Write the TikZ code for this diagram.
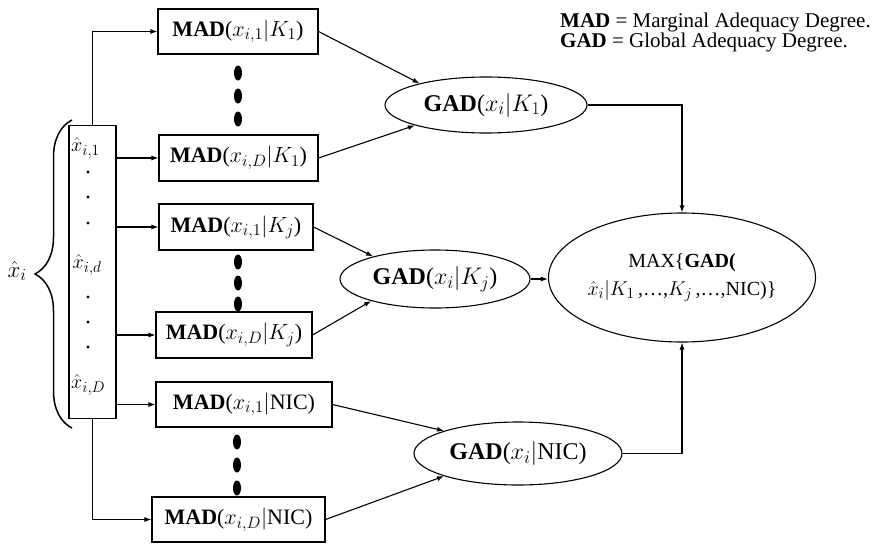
\RequirePackage{fix-cm}
\documentclass[tikz,border=0pt]{standalone}
\usepackage{fontspec}
\setmainfont{Liberation Serif}
\DeclareMathSizes{20}{20}{15.5}{12}
\DeclareMathSizes{21}{21}{16}{12}
\DeclareMathSizes{22}{22}{16.5}{12.5}
\DeclareMathSizes{23}{23}{17}{13}
\DeclareMathSizes{24}{24}{18}{14}
\usetikzlibrary{shapes.geometric,arrows.meta,decorations.pathreplacing}
\begin{document}
\begin{tikzpicture}[x=1pt,y=-1pt,
  every node/.style={inner sep=0pt},
  madbox/.style={draw,line width=1.1pt,minimum height=45pt,font=\fontsize{22}{26}\selectfont},
  gad/.style={draw,ellipse,line width=1.1pt,font=\fontsize{24}{28}\selectfont},
  arr/.style={line width=1.1pt,-{Latex[length=7pt,width=5pt]}},
  entry/.style={anchor=west,font=\fontsize{20}{24}\selectfont},
  legtext/.style={anchor=base west,font=\fontsize{21}{24}\selectfont}]
\useasboundingbox (0,0) rectangle (882,544);

% MAD boxes
\node[madbox,minimum width=160pt] (b1) at (238,31.5) {\textbf{MAD}($x_{i,1}|K_1$)};
\node[madbox,minimum width=159pt,minimum height=46pt] (b2) at (238.5,158) {\textbf{MAD}($x_{i,D}|K_1$)};
\node[madbox,minimum width=154pt,minimum height=46pt] (b3) at (236,227) {\textbf{MAD}($x_{i,1}|K_j$)};
\node[madbox,minimum width=156pt,minimum height=46pt] (b4) at (234,335) {\textbf{MAD}($x_{i,D}|K_j$)};
\node[madbox,minimum width=176pt] (b5) at (244,404.5) {\textbf{MAD}($x_{i,1}|$NIC)};
\node[madbox,minimum width=173pt] (b6) at (238.5,519.5) {\textbf{MAD}($x_{i,D}|$NIC)};

% big dots
\foreach \yy in {73,96,119,262,283,304}
  \fill (238,\yy) ellipse [x radius=4, y radius=7.5];
\foreach \yy in {442,465,488}
  \fill (237,\yy) ellipse [x radius=4, y radius=7.5];

% input vector
\node[draw,line width=1.1pt,minimum width=47pt,minimum height=293pt] (vec) at (92.5,272) {};
\node[entry] (e1) at (71,148) {$\hat{x}_{i,1}$};
\node[entry] (ed) at (72.5,265) {$\hat{x}_{i,d}$};
\node[entry] (eD) at (71,385) {$\hat{x}_{i,D}$};
\foreach \yy in {172,197,223,297,322,347}
  \fill (88,\yy) circle (1.6);

% brace and label
\draw[line width=1.5pt,decorate,decoration={brace,amplitude=37pt}] (72,428) -- (72,120);
\node[font=\fontsize{23}{26}\selectfont] (xi) at (17,271) {$\hat{x}_i$};

% GAD ellipses
\node[gad,minimum width=202pt,minimum height=56pt] (g1) at (486,105) {\textbf{GAD}($x_i|K_1$)};
\node[gad,minimum width=190pt,minimum height=58pt] (gj) at (435,279) {\textbf{GAD}($x_i|K_j$)};
\node[gad,minimum width=208pt,minimum height=63pt] (gn) at (518,453.5) {\textbf{GAD}($x_i|$NIC)};
\node[draw,ellipse,line width=1.1pt,minimum width=266pt,minimum height=129pt,align=center,
      font=\fontsize{20}{28}\selectfont] (m) at (682,277.5)
      {MAX\{\textbf{GAD(}\\$\hat{x}_i|K_1$\,,…,$K_j$\,,…,NIC)\}};

% legend
\node[legtext] (l1) at (560,27) {\textbf{MAD} = Marginal Adequacy Degree.};
\node[legtext] (l2) at (560,47) {\textbf{GAD} = Global Adequacy Degree.};

% connectors from the vector
\draw[arr] (vec.north) |- (b1.west);
\draw[arr] (vec.east |- b2.west) -- (b2.west);
\draw[arr] (vec.east |- b3.west) -- (b3.west);
\draw[arr] (vec.east |- b4.west) -- (b4.west);
\draw[arr] (vec.east |- b5.west) -- (b5.west);
\draw[arr] (vec.south) |- (b6.west);

% MAD -> GAD
\draw[arr] (b1.east) -- (g1.162);
\draw[arr] (b2.east) -- (g1.196);
\draw[arr] (b3.east) -- (gj.160);
\draw[arr] (b4.east) -- (gj.199);
\draw[arr] (b5.east) -- (gn.163);
\draw[arr] (b6.east) -- (gn.197);

% GAD -> MAX
\draw[arr] (g1.east) -| (m.north);
\draw[arr] (gj.east) -- (gj.east -| m.west);
\draw[arr] (gn.east) -| (m.south);
\end{tikzpicture}
\end{document}
